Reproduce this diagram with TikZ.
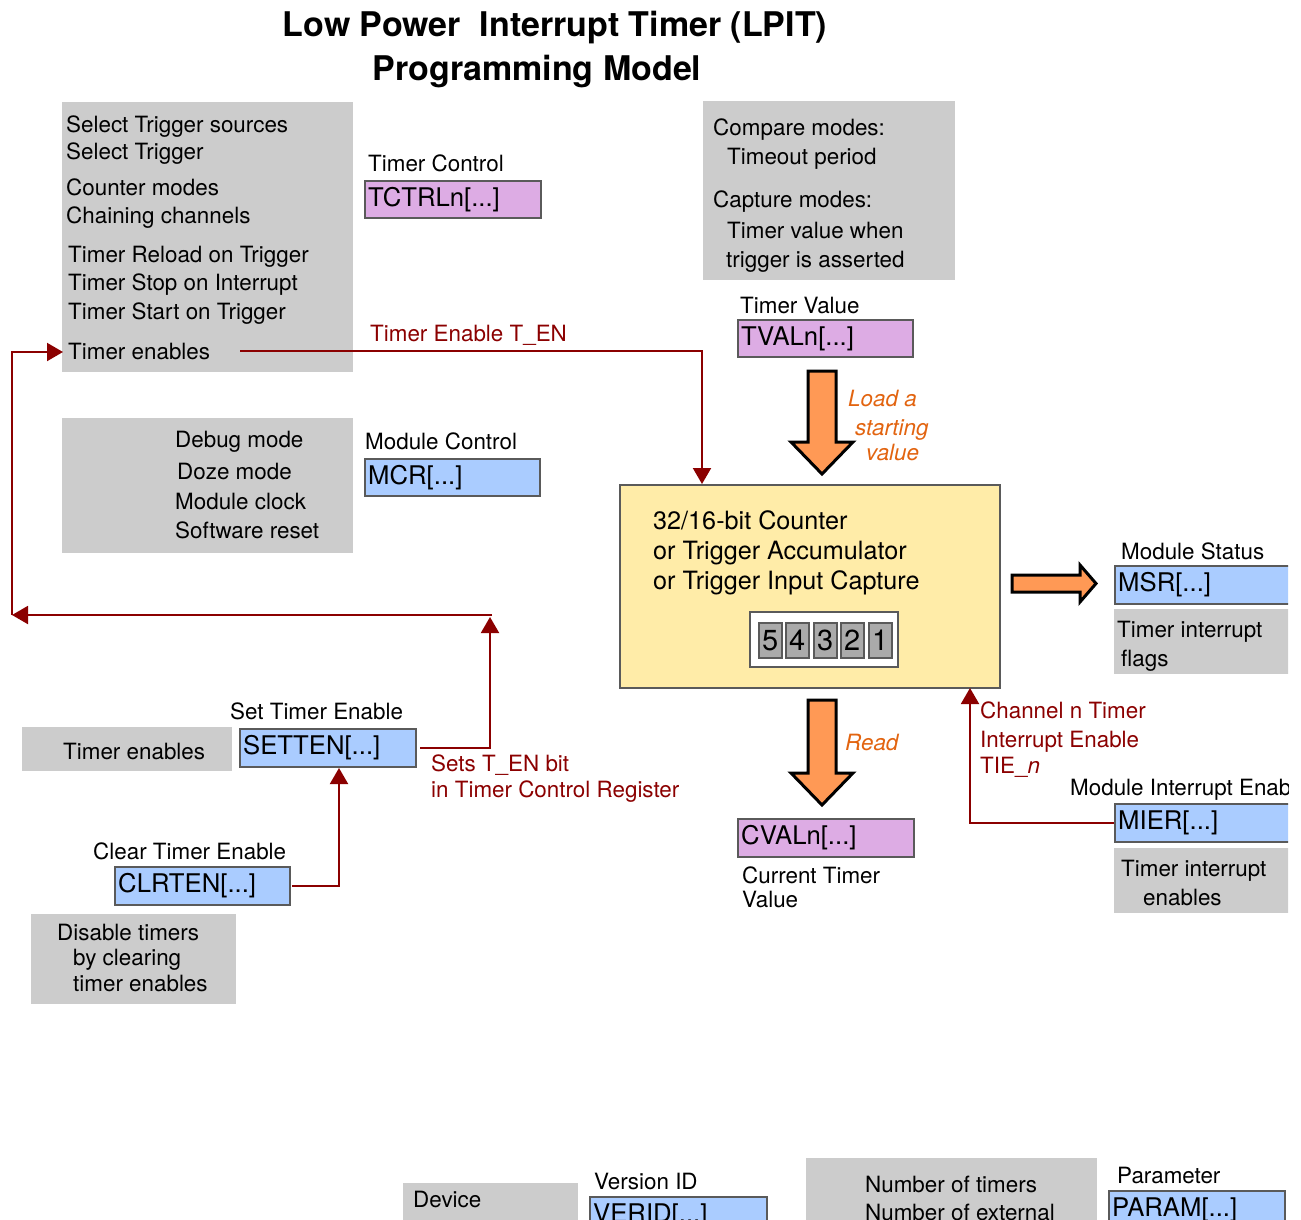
\documentclass[tikz,border=0pt]{standalone}
\usepackage{fontspec}
\setmainfont{TeX Gyre Heros}
\usetikzlibrary{arrows.meta}
\definecolor{gbox}{RGB}{204,204,204}
\definecolor{vio}{RGB}{221,172,228}
\definecolor{blu}{RGB}{170,204,255}
\definecolor{yel}{RGB}{255,236,168}
\definecolor{ora}{RGB}{255,153,85}
\definecolor{drd}{RGB}{139,0,0}
\definecolor{otx}{RGB}{226,100,16}
\definecolor{bord}{RGB}{90,90,90}
\definecolor{cellg}{RGB}{170,170,170}
\begin{document}
\begin{tikzpicture}[x=1pt,y=-1pt,
  lbl/.style={font=\fontsize{22.4}{26}\selectfont, anchor=base west, inner sep=0pt},
  rlbl/.style={lbl, text=drd},
  olbl/.style={lbl, text=otx, font=\fontsize{22.4}{26}\selectfont\itshape},
  cnt/.style={lbl, font=\fontsize{25.2}{30}\selectfont},
  ttl/.style={font=\fontsize{34}{40}\selectfont\bfseries, anchor=base, inner sep=0pt},
  gray/.style={fill=gbox, draw=none, anchor=north west, inner sep=0pt},
  regbox/.style={draw=bord, line width=2pt, anchor=north west, inner sep=0pt},
  regtxt/.style={font=\fontsize{25.7}{30}\selectfont, anchor=west, inner sep=0pt},
  conn/.style={draw=drd, line width=2pt, -{Triangle[width=18pt,length=16pt]}},
  blockarrow/.style={draw=black, line width=3pt, fill=ora, line join=miter}
]
\useasboundingbox (0,0) rectangle (1301,1219);
\begin{scope}
\clip (0,0) rectangle (1288,1219);

% title
\node[ttl] (t1) at (555,36) {Low Power\ \ Interrupt Timer (LPIT)};
\node[ttl] (t2) at (537,80) {Programming Model};

% gray box 1
\node[gray, minimum width=291pt, minimum height=270pt] (g1) at (62,102) {};
\node[lbl] (g1a) at (66,132) {Select Trigger sources};
\node[lbl] (g1b) at (66,159) {Select Trigger};
\node[lbl] (g1c) at (66,195) {Counter modes};
\node[lbl] (g1d) at (66,223) {Chaining channels};
\node[lbl] (g1e) at (68,262) {Timer Reload on Trigger};
\node[lbl] (g1f) at (68,290) {Timer Stop on Interrupt};
\node[lbl] (g1g) at (68,319) {Timer Start on Trigger};
\node[lbl] (g1h) at (68,359) {Timer enables};

% TCTRL
\node[lbl] (tcl) at (368,171) {Timer Control};
\node[regbox, fill=vio, minimum width=176pt, minimum height=37pt] (tctrl) at (364,180) {};
\node[regtxt] (tctrlt) at ([xshift=4pt]tctrl.west) {TCTRLn[...]};

% gray box top right
\node[gray, minimum width=252pt, minimum height=179pt] (g2) at (703,101) {};
\node[lbl] (g2a) at (713,135) {Compare modes:};
\node[lbl] (g2b) at (727,164) {Timeout period};
\node[lbl] (g2c) at (713,207) {Capture modes:};
\node[lbl] (g2d) at (727,238) {Timer value when};
\node[lbl] (g2e) at (726,267) {trigger is asserted};

% TVAL
\node[lbl] (tvl) at (740,313) {Timer Value};
\node[regbox, fill=vio, minimum width=175pt, minimum height=37pt] (tval) at (737,319) {};
\node[regtxt] (tvalt) at ([xshift=4pt]tval.west) {TVALn[...]};

% load arrow
\draw[blockarrow] (808,371) -- (836,371) -- (836,442) -- (853,442) -- (822,474) -- (791,442) -- (808,442) -- cycle;
\node[olbl] (la1) at (848,406) {Load a};
\node[olbl] (la2) at (855,435) {starting};
\node[olbl] (la3) at (866,460) {value};

% gray box 2
\node[gray, minimum width=291pt, minimum height=135pt] (g3) at (62,418) {};
\node[lbl] (g3a) at (175,447) {Debug mode};
\node[lbl] (g3b) at (177,479) {Doze mode};
\node[lbl] (g3c) at (175,509) {Module clock};
\node[lbl] (g3d) at (175,538) {Software reset};

% MCR
\node[lbl] (mcl) at (365,449) {Module Control};
\node[regbox, fill=blu, minimum width=175pt, minimum height=37pt] (mcr) at (364,458) {};
\node[regtxt] (mcrt) at ([xshift=4pt]mcr.west) {MCR[...]};

% counter
\node[regbox, fill=yel, minimum width=380pt, minimum height=203pt] (counter) at (619,484) {};
\node[cnt] (c1) at (653,529) {32/16-bit Counter};
\node[cnt] (c2) at (653,559) {or Trigger Accumulator};
\node[cnt] (c3) at (653,589) {or Trigger Input Capture};
\node[regbox, fill=white, minimum width=148pt, minimum height=55pt] (digits) at (749,611) {};
\foreach \xx/\dd in {758/5,785/4,813/3,840/2,868/1}{
  \node[draw=bord, line width=1.5pt, fill=cellg, anchor=north west, minimum width=23pt, minimum height=35pt, inner sep=0pt,
        font=\fontsize{29}{30}\selectfont] (cell\dd) at (\xx,622) {\dd};
}

% right arrow and MSR
\draw[blockarrow] (1012,575) -- (1080,575) -- (1080,565) -- (1096,583.5) -- (1080,602) -- (1080,592) -- (1012,592) -- cycle;
\node[lbl] (msl) at (1121,559) {Module Status};
\node[regbox, fill=blu, minimum width=190pt, minimum height=38pt] (msr) at (1114,565) {};
\node[regtxt] (msrt) at ([xshift=4pt]msr.west) {MSR[...]};
\node[gray, minimum width=190pt, minimum height=65pt] (g4) at (1114,609) {};
\node[lbl] (g4a) at (1117,637) {Timer interrupt};
\node[lbl] (g4b) at (1121,666) {flags};

% read arrow and CVAL
\draw[blockarrow] (808,700) -- (836,700) -- (836,773) -- (853,773) -- (822,805) -- (791,773) -- (808,773) -- cycle;
\node[olbl] (rd) at (845,750) {Read};
\node[regbox, fill=vio, minimum width=176pt, minimum height=38pt] (cval) at (737,818) {};
\node[regtxt] (cvalt) at ([xshift=4pt]cval.west) {CVALn[...]};
\node[lbl] (cv1) at (742,883) {Current Timer};
\node[lbl] (cv2) at (742,907) {Value};

% MIER
\node[rlbl] (ch1) at (980,718) {Channel n Timer};
\node[rlbl] (ch2) at (980,747) {Interrupt Enable};
\node[rlbl] (ch3) at (980,773) {TIE\_\textit{n}};
\node[lbl] (mil) at (1070,795) {Module Interrupt Enable};
\node[regbox, fill=blu, minimum width=190pt, minimum height=38pt] (mier) at (1114,803) {};
\node[regtxt] (miert) at ([xshift=4pt]mier.west) {MIER[...]};
\node[gray, minimum width=190pt, minimum height=65pt] (g5) at (1114,848) {};
\node[lbl] (g5a) at (1121,876) {Timer interrupt};
\node[lbl] (g5b) at (1143,905) {enables};

% SETTEN / CLRTEN
\node[lbl] (stl) at (230,719) {Set Timer Enable};
\node[regbox, fill=blu, minimum width=176pt, minimum height=38pt] (setten) at (239,728) {};
\node[regtxt] (settent) at ([xshift=4pt]setten.west) {SETTEN[...]};
\node[gray, minimum width=210pt, minimum height=44pt] (g6) at (22,727) {};
\node[lbl] (g6a) at (63,759) {Timer enables};
\node[rlbl] (st1) at (431,771) {Sets T\_EN bit};
\node[rlbl] (st2) at (431,797) {in Timer Control Register};

\node[lbl] (ctl) at (93,859) {Clear Timer Enable};
\node[regbox, fill=blu, minimum width=175pt, minimum height=38pt] (clrten) at (114,866) {};
\node[regtxt] (clrtent) at ([xshift=4pt]clrten.west) {CLRTEN[...]};
\node[gray, minimum width=205pt, minimum height=90pt] (g7) at (31,914) {};
\node[lbl] (g7a) at (57,940) {Disable timers};
\node[lbl] (g7b) at (73,965) {by clearing};
\node[lbl] (g7c) at (73,991) {timer enables};

% bottom row
\node[gray, minimum width=175pt, minimum height=60pt] (g8) at (403,1183) {};
\node[lbl] (g8a) at (413,1207) {Device};
\node[lbl] (vel) at (594,1189) {Version ID};
\node[regbox, fill=blu, minimum width=177pt, minimum height=38pt] (verid) at (589,1196) {};
\node[regtxt] (veridt) at ([xshift=4pt]verid.west) {VERID[...]};
\node[gray, minimum width=291pt, minimum height=80pt] (g9) at (806,1158) {};
\node[lbl] (g9a) at (865,1192) {Number of timers};
\node[lbl] (g9b) at (865,1220) {Number of external};
\node[lbl] (pal) at (1117,1183) {Parameter};
\node[regbox, fill=blu, minimum width=176pt, minimum height=38pt] (param) at (1108,1190) {};
\node[regtxt] (paramt) at ([xshift=4pt]param.west) {PARAM[...]};

% connectors
\coordinate (tenS) at (240,351);
\coordinate (tenE) at (702,484);
\node[rlbl] (tenl) at (370,341) {Timer Enable T\_EN};
\draw[conn] (tenS) -| (tenE);

\coordinate (loopA) at (490,617);
\coordinate (loopB) at (492,615);
\coordinate (loopC) at (12,615);
\coordinate (tenIn) at (63,352);
\draw[conn] ([xshift=3pt]setten.east) -| (loopA);
\draw[conn] (loopB) -- (loopC);
\draw[conn] (loopC) |- (tenIn);

\coordinate (clrUp) at (339,768);
\draw[conn] ([xshift=1pt]clrten.east) -| (clrUp);

\coordinate (chanUp) at (970,688);
\draw[conn] (mier.west) -| (chanUp);

\end{scope}
\end{tikzpicture}
\end{document}
